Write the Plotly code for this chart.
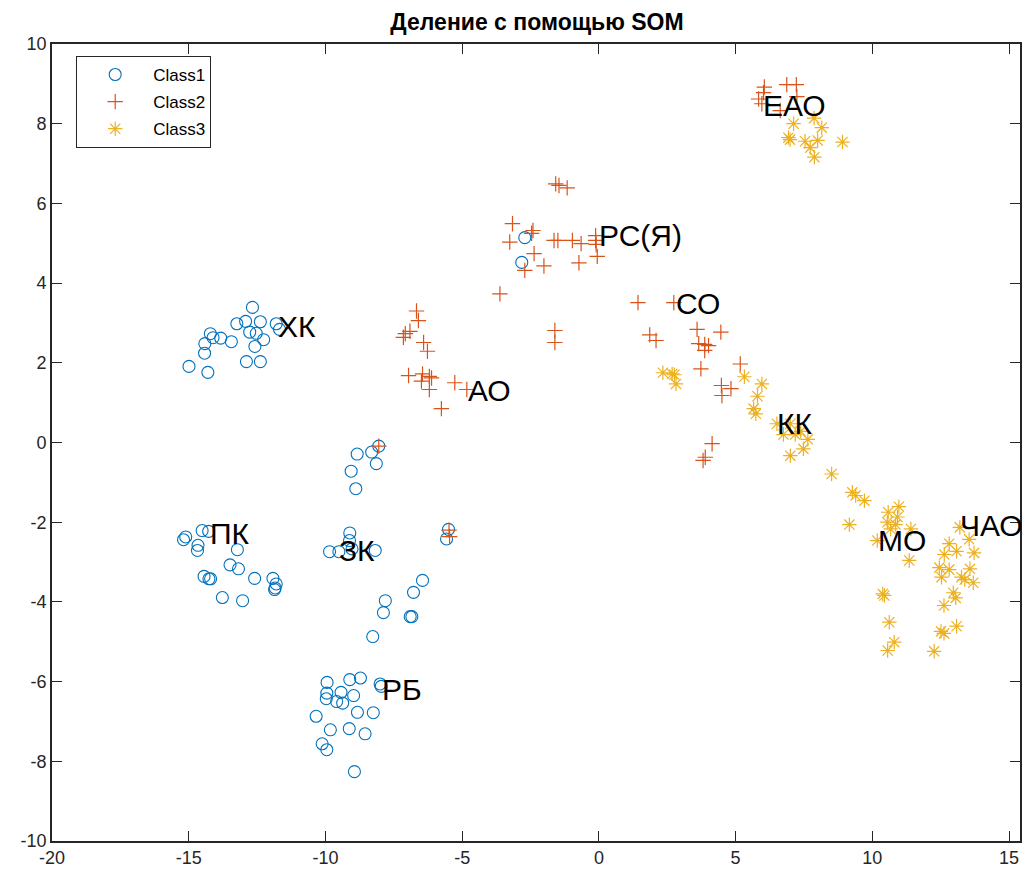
import plotly.graph_objects as go

# ---------------- data ----------------
class1_x = [-12.67, -13.24, -12.92, -12.38, -11.80, -11.68, -14.21, -14.11, -13.83, -13.44,
            -14.41, -12.77, -12.53, -12.26, -12.58, -14.42, -12.89, -12.38, -14.99, -14.30,
            -15.11, -15.19, -14.51, -14.27, -14.66, -14.68, -13.22, -13.49, -13.18, -14.44,
            -14.26, -14.20, -12.59, -11.92, -11.80, -11.84, -11.86, -13.77, -13.03,
            -8.05, -8.31, -8.84, -8.14, -9.06, -8.89, -9.11, -9.12, -9.85, -9.51,
            -9.03, -8.18, -5.57, -5.50, -6.45, -6.78, -7.81, -7.88, -6.90, -6.84, -8.27,
            -9.94, -9.11, -8.72, -8.00, -7.96, -9.95, -9.97, -9.43, -9.59, -9.37,
            -8.97, -10.34, -8.83, -8.25, -9.82, -9.13, -8.55, -10.12, -9.95, -8.94,
            -2.71, -2.82]
class1_y = [3.39, 2.98, 3.04, 3.03, 2.98, 2.84, 2.73, 2.63, 2.62, 2.53,
            2.48, 2.77, 2.74, 2.58, 2.41, 2.24, 2.03, 2.03, 1.91, 1.76,
            -2.37, -2.44, -2.21, -2.23, -2.58, -2.71, -2.69, -3.07, -3.17, -3.36,
            -3.42, -3.42, -3.41, -3.41, -3.55, -3.65, -3.69, -3.89, -3.97,
            -0.09, -0.24, -0.29, -0.53, -0.72, -1.16, -2.27, -2.46, -2.74, -2.74,
            -2.67, -2.71, -2.42, -2.18, -3.46, -3.76, -3.97, -4.27, -4.37, -4.37, -4.87,
            -6.02, -5.95, -5.91, -6.06, -6.12, -6.29, -6.43, -6.27, -6.50, -6.54,
            -6.35, -6.87, -6.77, -6.78, -7.21, -7.18, -7.31, -7.56, -7.71, -8.26,
            5.14, 4.52]

class2_x = [-3.62, -6.67, -6.60, -6.91, -7.08, -7.15, -6.41, -6.27, -6.96, -6.45,
            -6.20, -6.12, -6.49, -6.20, -5.27, -4.83, -5.76,
            -8.05, -5.48, -5.46,
            -1.58, -1.46, -1.16, -3.16, -2.41, -2.46, -3.26, -1.64, -1.50, -0.97,
            -0.65, -0.12, -0.12, -0.10, -0.06, -2.37, -2.01, -0.73, -2.71, -1.61, -1.61,
            1.43, 2.74, 3.59, 4.46, 1.86, 2.09, 3.65, 3.87, 4.01, 3.87,
            5.17, 3.73, 4.48, 4.83, 4.50, 4.14, 3.89, 3.81,
            6.05, 6.02, 6.87, 7.22, 7.24, 5.84, 5.96, 6.63]
class2_y = [3.73, 3.30, 3.06, 2.79, 2.73, 2.64, 2.51, 2.29, 1.68, 1.72,
            1.66, 1.62, 1.54, 1.33, 1.50, 1.33, 0.85,
            -0.09, -2.20, -2.36,
            6.49, 6.45, 6.39, 5.49, 5.32, 5.25, 5.03, 5.07, 5.07, 5.07,
            4.99, 5.19, 5.07, 4.97, 4.67, 4.74, 4.43, 4.51, 4.32, 2.81, 2.51,
            3.51, 3.51, 2.84, 2.77, 2.70, 2.56, 2.48, 2.46, 2.43, 2.31,
            1.97, 1.85, 1.43, 1.35, 1.18, -0.03, -0.37, -0.45,
            8.92, 8.78, 8.98, 8.98, 8.68, 8.62, 8.50, 8.33]

class3_x = [2.34, 2.68, 2.76, 2.82, 5.32, 5.96, 5.80, 5.66, 5.74, 6.51,
            7.00, 6.75, 7.18, 7.38, 7.64, 7.48, 7.00, 8.51, 9.27, 9.39, 9.71,
            9.16, 10.58, 10.97, 10.92, 10.55, 10.85, 10.67, 11.41, 10.18, 11.35,
            13.20, 13.54, 12.81, 13.08, 12.63, 13.72, 12.45, 12.81, 12.53, 13.57,
            13.26, 13.38, 13.69, 10.38, 10.44, 12.96, 13.05, 12.62, 10.62, 13.08,
            12.51, 12.62, 10.80, 10.56, 12.26,
            7.87, 7.12, 8.15, 6.93, 6.99, 7.54, 8.00, 7.73, 7.88, 8.91]
class3_y = [1.75, 1.72, 1.70, 1.47, 1.65, 1.47, 1.16, 0.85, 0.72, 0.47,
            0.47, 0.20, 0.20, 0.28, 0.08, -0.16, -0.33, -0.79, -1.25, -1.33, -1.46,
            -2.06, -1.75, -1.61, -1.87, -2.00, -2.06, -2.17, -2.17, -2.46, -2.96,
            -2.13, -2.43, -2.54, -2.73, -2.81, -2.77, -3.14, -3.19, -3.38, -3.17,
            -3.38, -3.44, -3.52, -3.80, -3.84, -3.77, -3.90, -4.09, -4.51, -4.61,
            -4.74, -4.79, -5.01, -5.22, -5.24,
            8.14, 8.00, 7.90, 7.65, 7.60, 7.56, 7.58, 7.40, 7.16, 7.54]

label_text = ["ХК", "АО", "РС(Я)", "СО", "ЕАО", "КК", "МО", "ЧАО", "ПК", "ЗК", "РБ"]
label_x = [-11.75, -4.78, 0.00, 2.81, 5.99, 6.50, 10.22, 13.21, -14.23, -9.49, -7.92]
label_y = [2.91, 1.30, 5.19, 3.49, 8.46, 0.48, -2.46, -2.08, -2.28, -2.71, -6.20]

x_ticks = [-20, -15, -10, -5, 0, 5, 10, 15]
x_tick_labels = ["-20", "-15", "-10", "-5", "0", "5", "10", "15"]
y_ticks = [-10, -8, -6, -4, -2, 0, 2, 4, 6, 8, 10]
y_tick_labels = ["-10", "-8", "-6", "-4", "-2", "0", "2", "4", "6", "8", "10"]

# ---------------- figure ----------------
AX = "#262626"
FONT = "Liberation Sans, Arial, Helvetica"
fig = go.Figure()
fig.add_trace(go.Scatter(x=class1_x, y=class1_y, mode="markers", name="Class1", legendgroup="g1",
                         marker=dict(symbol="circle-open", size=12, color="#0072BD",
                                     line=dict(width=1.1, color="#0072BD"))))
fig.add_trace(go.Scatter(x=class2_x, y=class2_y, mode="markers", name="Class2", legendgroup="g2",
                         marker=dict(symbol="cross-thin-open", size=11, color="#D95319",
                                     line=dict(width=1.2, color="#D95319"))))
fig.add_trace(go.Scatter(x=class3_x, y=class3_y, mode="markers", name="Class3", legendgroup="g3",
                         marker=dict(symbol="asterisk-open", size=12, color="#EDB120",
                                     line=dict(width=1.2, color="#EDB120"))))

for t, lx, ly in zip(label_text, label_x, label_y):
    fig.add_annotation(x=lx, y=ly, text=t, showarrow=False, xanchor="left", yanchor="middle",
                       xshift=-2, font=dict(family=FONT, size=30, color="black"))

axis_common = dict(showgrid=False, zeroline=False, showline=True, linecolor=AX, linewidth=1.6,
                   mirror="ticks", ticks="inside", ticklen=10, tickwidth=1.4, tickcolor=AX,
                   tickfont=dict(family=FONT, size=18, color=AX))
fig.update_xaxes(range=[-20, 15.4], tickvals=x_ticks, ticktext=x_tick_labels, **axis_common)
fig.update_yaxes(range=[-10, 10], tickvals=y_ticks, ticktext=y_tick_labels, **axis_common)

fig.update_layout(
    width=1026, height=873,
    margin=dict(l=52, r=4, t=44, b=32),
    paper_bgcolor="white", plot_bgcolor="white",
    title=dict(text="<b>Деление с помощью SOM</b>", x=537 / 1026, xanchor="center",
               y=1 - 22 / 873, yanchor="middle",
               font=dict(family=FONT, size=23, color="black")),
    legend=dict(x=0.025, y=0.985, xanchor="left", yanchor="top",
                bordercolor=AX, borderwidth=1, bgcolor="white",
                font=dict(family=FONT, size=17, color="black"),
                itemwidth=66, tracegroupgap=2, entrywidth=64),
    showlegend=True,
)

fig.write_html("out.html")
